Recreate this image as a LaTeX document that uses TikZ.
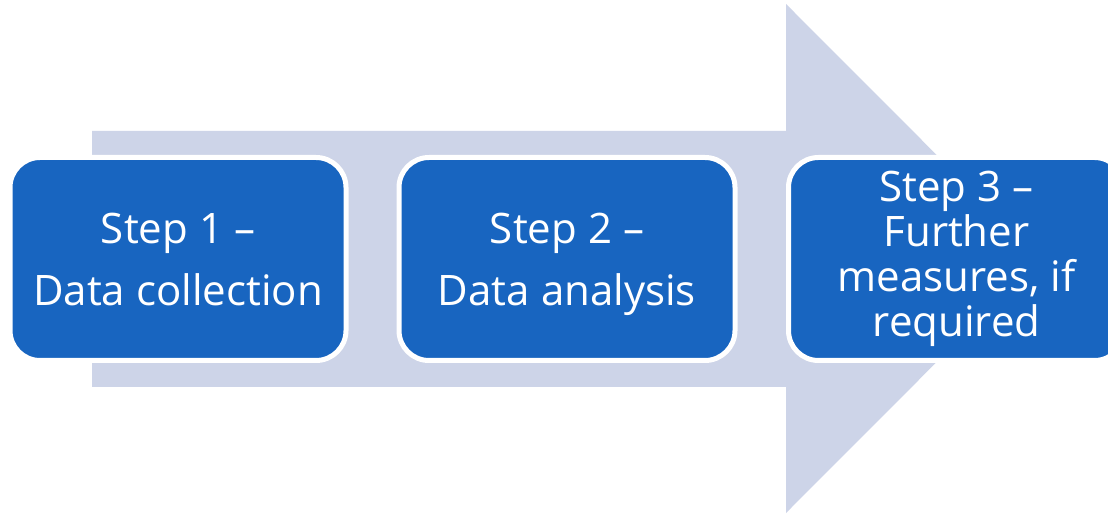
\documentclass[tikz,border=0pt]{standalone}
\usepackage{fontspec}
\newfontfamily\boxfont{Open Sans}
\definecolor{arrowfill}{RGB}{205,212,232}
\definecolor{boxblue}{RGB}{24,101,192}
\tikzset{
  stepbox/.style={draw=white, fill=boxblue, line width=5pt, rounded corners=30pt,
    minimum width=336pt, minimum height=203pt, inner sep=0pt, text=white,
    align=center},
  widefont/.style={font=\boxfont\fontsize{42}{62}\selectfont},
  narrowfont/.style={font=\boxfont\fontsize{42}{45}\selectfont},
}
\begin{document}
\begin{tikzpicture}[x=1pt,y=1pt]
\clip (0,0) rectangle (1108,514);
\fill[white] (0,0) rectangle (1108,514);
% big background arrow
\fill[arrowfill] (92,383) -- (786,383) -- (786,510) -- (1040,255.5) -- (786,1) -- (786,127) -- (92,127) -- cycle;
% step boxes
\node[stepbox, widefont] (s1) at (178,255) {Step 1 –\\\smash{Data collection}};
\node[stepbox, widefont] (s2) at (567,255) {Step 2 –\\\smash{Data analysis}};
\node[stepbox, narrowfont] (s3) at (956.5,255) {Step 3 –\\Further\\measures, if\\required};
\end{tikzpicture}
\end{document}
